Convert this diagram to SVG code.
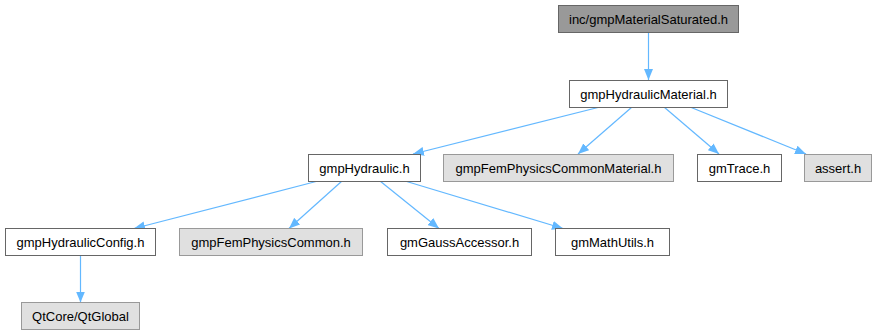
<svg xmlns="http://www.w3.org/2000/svg" width="879" height="336" viewBox="0 0 879 336">
<defs>
<marker id="ah" markerUnits="userSpaceOnUse" viewBox="0 0 11 9" markerWidth="11" markerHeight="9" refX="11" refY="4.5" orient="auto">
<path d="M0,0 L11,4.5 L0,9 z" fill="#63b8ff"/>
</marker>
<style>
text{font-family:"Liberation Sans",Arial,sans-serif;font-size:13px;fill:#000;text-anchor:middle}
.w{fill:#ffffff;stroke:#666666;stroke-width:1}
.g{fill:#e0e0e0;stroke:#999999;stroke-width:1}
.d{fill:#999999;stroke:#666666;stroke-width:1}
.e{fill:none;stroke:#63b8ff;stroke-width:1.2;marker-end:url(#ah)}
</style>
</defs>
<rect width="879" height="336" fill="#ffffff"/>
<g id="edges">
<path class="e" d="M648.5,32.5 L648.5,80"/>
<path class="e" d="M600,107 L413,154"/>
<path class="e" d="M632,107 L578,154"/>
<path class="e" d="M664,107 L719,154"/>
<path class="e" d="M690,107 L806,154"/>
<path class="e" d="M318,181 L134,228.5"/>
<path class="e" d="M342,181 L289,228.5"/>
<path class="e" d="M380,181 L439,228.5"/>
<path class="e" d="M405,181 L563,228.5"/>
<path class="e" d="M80.5,255.5 L80.5,302.5"/>
</g>
<g id="n1"><rect class="d" x="558.5" y="5.5" width="180" height="27"/><text x="648.5" y="23.5">inc/gmpMaterialSaturated.h</text></g>
<g id="n2"><rect class="w" x="569.5" y="80.5" width="158" height="27"/><text x="648.5" y="98.5">gmpHydraulicMaterial.h</text></g>
<g id="n3"><rect class="w" x="308.5" y="154.5" width="112" height="27"/><text x="364.5" y="172.5">gmpHydraulic.h</text></g>
<g id="n4"><rect class="g" x="443.5" y="154.5" width="230" height="27"/><text x="558.5" y="172.5">gmpFemPhysicsCommonMaterial.h</text></g>
<g id="n5"><rect class="w" x="697.5" y="154.5" width="84" height="27"/><text x="739.5" y="172.5">gmTrace.h</text></g>
<g id="n6"><rect class="g" x="804.5" y="154.5" width="67" height="27"/><text x="838" y="172.5">assert.h</text></g>
<g id="n7"><rect class="w" x="5.5" y="228.5" width="150" height="27"/><text x="80.5" y="246.5">gmpHydraulicConfig.h</text></g>
<g id="n8"><rect class="g" x="179.5" y="228.5" width="183" height="27"/><text x="271" y="246.5">gmpFemPhysicsCommon.h</text></g>
<g id="n9"><rect class="w" x="387.5" y="228.5" width="144" height="27"/><text x="459.5" y="246.5">gmGaussAccessor.h</text></g>
<g id="n10"><rect class="w" x="555.5" y="228.5" width="114" height="27"/><text x="612.5" y="246.5">gmMathUtils.h</text></g>
<g id="n11"><rect class="g" x="21.5" y="302.5" width="118" height="27"/><text x="80.5" y="320.5">QtCore/QtGlobal</text></g>
</svg>
